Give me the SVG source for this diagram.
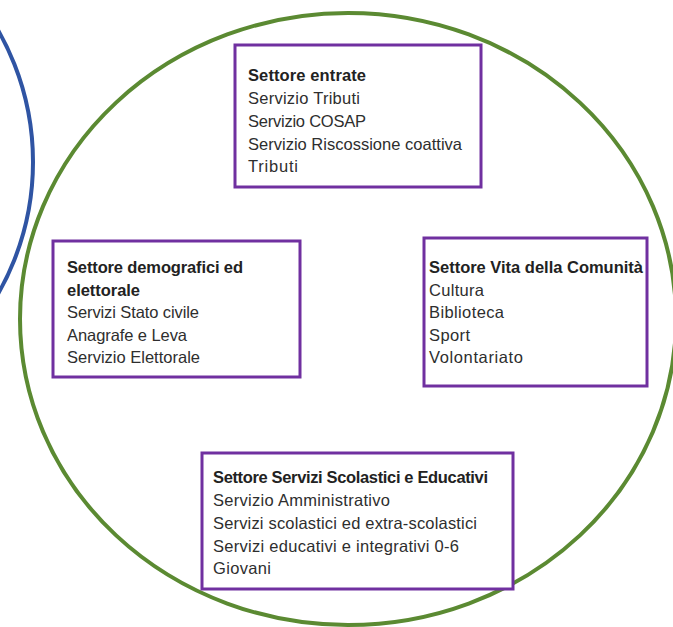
<svg xmlns="http://www.w3.org/2000/svg" width="673" height="627" viewBox="0 0 673 627">
  <style>
    .box { fill: #ffffff; stroke: #7030a0; stroke-width: 3; }
    .ring { fill: none; stroke-width: 4; }
    text { font-family: "Liberation Sans", Arial, sans-serif; font-size: 16.5px; fill: #2e2e2e; }
    .title { font-weight: bold; fill: #222222; }
  </style>
  <rect width="673" height="627" fill="#ffffff"/>

  <!-- outer rings -->
  <g id="rings">
    <circle class="ring" cx="-233" cy="162" r="266" stroke="#2f54a3"/>
    <ellipse class="ring" cx="348" cy="319" rx="328" ry="306" stroke="#5b8a32"/>
  </g>

  <g id="settore-entrate">
    <rect class="box" x="235" y="45" width="246" height="142"/>
    <text class="title" x="248" y="81" textLength="118">Settore entrate</text>
    <text x="248" y="104" textLength="112">Servizio Tributi</text>
    <text x="248" y="127" textLength="118">Servizio COSAP</text>
    <text x="248" y="150" textLength="214">Servizio Riscossione coattiva</text>
    <text x="248" y="172" textLength="50">Tributi</text>
  </g>

  <g id="settore-demografici">
    <rect class="box" x="53" y="241" width="247" height="136"/>
    <text class="title" x="67" y="273" textLength="176">Settore demografici ed</text>
    <text class="title" x="67" y="296" textLength="73">elettorale</text>
    <text x="67" y="318" textLength="132">Servizi Stato civile</text>
    <text x="67" y="341" textLength="120">Anagrafe e Leva</text>
    <text x="67" y="363" textLength="133">Servizio Elettorale</text>
  </g>

  <g id="settore-vita-comunita">
    <rect class="box" x="424" y="238" width="223" height="148"/>
    <text class="title" x="429" y="273" textLength="214">Settore Vita della Comunità</text>
    <text x="429" y="296" textLength="55">Cultura</text>
    <text x="429" y="318" textLength="75">Biblioteca</text>
    <text x="429" y="341" textLength="41">Sport</text>
    <text x="429" y="363" textLength="94">Volontariato</text>
  </g>

  <g id="settore-scolastici">
    <rect class="box" x="202" y="453" width="311" height="136"/>
    <text class="title" x="213" y="483" textLength="275">Settore Servizi Scolastici e Educativi</text>
    <text x="213" y="506" textLength="177">Servizio Amministrativo</text>
    <text x="213" y="529" textLength="264">Servizi scolastici ed extra-scolastici</text>
    <text x="213" y="552" textLength="246">Servizi educativi e integrativi 0-6</text>
    <text x="213" y="574" textLength="58">Giovani</text>
  </g>
</svg>
